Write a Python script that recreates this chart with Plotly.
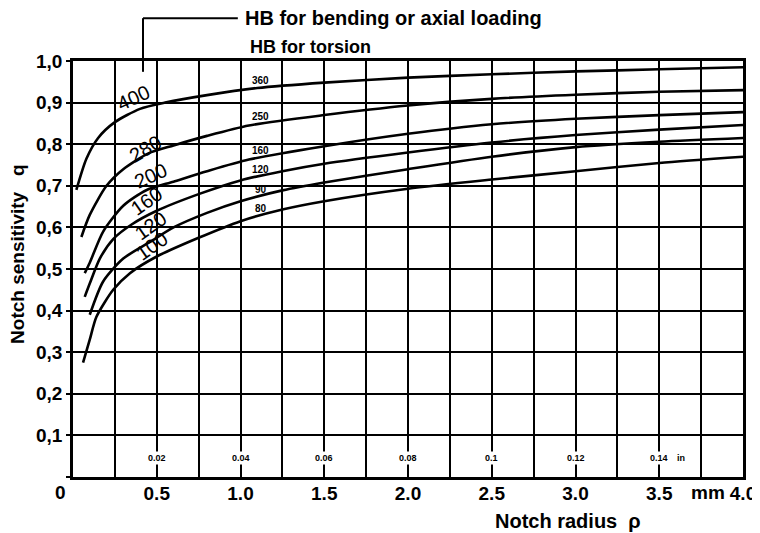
import numpy as np
import plotly.graph_objects as go

# ---- data (notch radius in mm, notch sensitivity q) ----
x_A = [0.02, 0.08, 0.15, 0.25, 0.4, 0.55, 0.8, 1.1, 1.5, 2.0, 2.5, 3.0, 3.5, 4.0]
q_A = [0.69, 0.765, 0.815, 0.853, 0.885, 0.90, 0.918, 0.935, 0.948, 0.96, 0.968, 0.975, 0.98, 0.985]

x_B = [0.05, 0.1, 0.2, 0.3, 0.45, 0.6, 0.8, 1.05, 1.5, 2.0, 2.5, 3.0, 3.5, 4.0]
q_B = [0.577, 0.63, 0.70, 0.74, 0.778, 0.797, 0.82, 0.845, 0.87, 0.893, 0.909, 0.919, 0.926, 0.93]

x_C = [0.07, 0.1, 0.18, 0.3, 0.44, 0.6, 0.8, 1.05, 1.5, 2.0, 2.5, 3.0, 3.5, 4.0]
q_C = [0.49, 0.515, 0.59, 0.652, 0.69, 0.71, 0.735, 0.763, 0.795, 0.825, 0.848, 0.861, 0.87, 0.877]

x_D = [0.07, 0.1, 0.16, 0.24, 0.35, 0.5, 0.75, 1.0, 1.25, 1.5, 2.0, 2.5, 3.0, 3.5, 4.0]
q_D = [0.433, 0.465, 0.525, 0.572, 0.607, 0.64, 0.68, 0.713, 0.735, 0.753, 0.78, 0.804, 0.822, 0.835, 0.846]

x_E = [0.1, 0.18, 0.3, 0.46, 0.6, 0.8, 1.0, 1.25, 1.5, 2.0, 2.5, 3.0, 3.5, 4.0]
q_E = [0.39, 0.47, 0.525, 0.565, 0.6, 0.635, 0.663, 0.689, 0.708, 0.74, 0.77, 0.793, 0.806, 0.815]

x_F = [0.06, 0.1, 0.14, 0.24, 0.34, 0.5, 0.75, 1.0, 1.25, 1.5, 2.0, 2.5, 3.0, 3.5, 4.0]
q_F = [0.275, 0.33, 0.385, 0.45, 0.49, 0.53, 0.575, 0.615, 0.643, 0.663, 0.693, 0.715, 0.735, 0.755, 0.77]

bending_labels = ["400", "280", "200", "160", "120", "100"]
torsion_labels = ["360", "250", "160", "120", "90", "80"]

x_tick_vals = [0, 0.25, 0.5, 0.75, 1.0, 1.25, 1.5, 1.75, 2.0, 2.25, 2.5, 2.75, 3.0, 3.25, 3.5, 3.75, 4.0]
x_tick_text = ["", "", "0.5", "", "1.0", "", "1.5", "", "2.0", "", "2.5", "", "3.0", "", "3.5", "", "4.0"]
y_tick_vals = [0, 0.1, 0.2, 0.3, 0.4, 0.5, 0.6, 0.7, 0.8, 0.9, 1.0]
y_tick_text = ["", "0,1", "0,2", "0,3", "0,4", "0,5", "0,6", "0,7", "0,8", "0,9", "1,0"]

inch_pos_mm = [0.5, 1.0, 1.5, 2.0, 2.5, 3.0, 3.5]
inch_labels = ["0.02", "0.04", "0.06", "0.08", "0.1", "0.12", "0.14"]

curves = [(x_A, q_A), (x_B, q_B), (x_C, q_C), (x_D, q_D), (x_E, q_E), (x_F, q_F)]

FONT = "Liberation Sans"

fig = go.Figure()
for xs, qs in curves:
    fig.add_trace(go.Scatter(x=xs, y=qs, mode="lines",
                             line=dict(color="black", width=2.6, shape="spline", smoothing=0.7),
                             hoverinfo="skip"))

annotations = []

# bending labels on the left part of the curves
bend_x = [0.36, 0.43, 0.46, 0.44, 0.46, 0.47]
bend_shift = [14, 6, 13, 15, 16, 14]
bend_angle = [-25, -30, -25, -35, -35, -35]
for (xs, qs), lab, bx, sh, ang in zip(curves, bending_labels, bend_x, bend_shift, bend_angle):
    annotations.append(dict(x=bx, y=float(np.interp(bx, xs, qs)), xref="x", yref="y",
                            text=lab, showarrow=False, yshift=sh, textangle=ang,
                            xanchor="center", yanchor="middle",
                            font=dict(family=FONT, size=20, color="black", weight="normal")))

# torsion labels
tor_x = 1.12
for (xs, qs), lab in zip(curves, torsion_labels):
    annotations.append(dict(x=tor_x, y=float(np.interp(tor_x, xs, qs)), xref="x", yref="y",
                            text=lab, showarrow=False, yshift=7,
                            xanchor="center", yanchor="middle",
                            font=dict(family=FONT, size=10, color="black", weight="bold")))

# inch scale labels inside bottom row
for pos, lab in zip(inch_pos_mm, inch_labels):
    annotations.append(dict(x=pos, y=0.046, xref="x", yref="y", text=lab, showarrow=False,
                            bgcolor="white", borderpad=1, xanchor="center", yanchor="middle",
                            font=dict(family=FONT, size=9, color="black", weight="bold")))
annotations.append(dict(x=3.5, y=0.046, xref="x", yref="y", text="in", showarrow=False,
                        xshift=22, xanchor="center", yanchor="middle",
                        font=dict(family=FONT, size=9, color="black", weight="bold")))

# header and axis texts
annotations += [
    dict(x=0.254, y=1.103, xref="paper", yref="paper", xanchor="left", yanchor="middle",
         text="HB for bending or axial loading", showarrow=False,
         font=dict(family=FONT, size=20, color="black", weight="bold")),
    dict(x=0.261, y=1.034, xref="paper", yref="paper", xanchor="left", yanchor="middle",
         text="HB for torsion", showarrow=False,
         font=dict(family=FONT, size=18, color="black", weight="bold")),
    dict(x=-0.082, y=0.534, xref="paper", yref="paper", text="Notch sensitivity   q",
         textangle=-90, showarrow=False, xanchor="center", yanchor="middle",
         font=dict(family=FONT, size=19, color="black", weight="bold")),
    dict(x=0.739, y=-0.105, xref="paper", yref="paper", text="Notch radius  ρ",
         showarrow=False, xanchor="center", yanchor="middle",
         font=dict(family=FONT, size=20, color="black", weight="bold")),
    dict(x=-0.019, y=-0.038, xref="paper", yref="paper", text="0",
         showarrow=False, xanchor="center", yanchor="middle",
         font=dict(family=FONT, size=19, color="black", weight="bold")),
    dict(x=0.948, y=-0.038, xref="paper", yref="paper", text="mm",
         showarrow=False, xanchor="center", yanchor="middle",
         font=dict(family=FONT, size=19, color="black", weight="bold")),
]

shapes = [
    dict(type="line", xref="paper", yref="paper", x0=0.1045, y0=1.103, x1=0.246, y1=1.103,
         line=dict(color="black", width=2)),
    dict(type="line", xref="paper", yref="paper", x0=0.1045, y0=1.103, x1=0.1045, y1=0.974,
         line=dict(color="black", width=2)),
]

axis_common = dict(showgrid=True, gridcolor="black", gridwidth=1.8, showline=True,
                   linecolor="black", linewidth=2.6, mirror=True, zeroline=False,
                   tickfont=dict(family=FONT, size=19, color="black", weight="bold"))

# the page body has an 8px default margin: compensate so the plot lands where the reference has it
fig.update_layout(
    width=752, height=525,
    margin=dict(l=65, r=17, t=53, b=56),
    plot_bgcolor="white", paper_bgcolor="white",
    showlegend=False,
    font=dict(family=FONT, color="black"),
    xaxis=dict(range=[0, 4.0], tickmode="array", tickvals=x_tick_vals, ticktext=x_tick_text,
               ticks="", ticklabelstandoff=-3, automargin=False, **axis_common),
    yaxis=dict(range=[0, 1.0], tickmode="array", tickvals=y_tick_vals, ticktext=y_tick_text,
               ticks="outside", ticklen=4, tickwidth=2, tickcolor="black", automargin=False,
               **axis_common),
    annotations=annotations,
    shapes=shapes,
)

fig.write_html("out.html")
